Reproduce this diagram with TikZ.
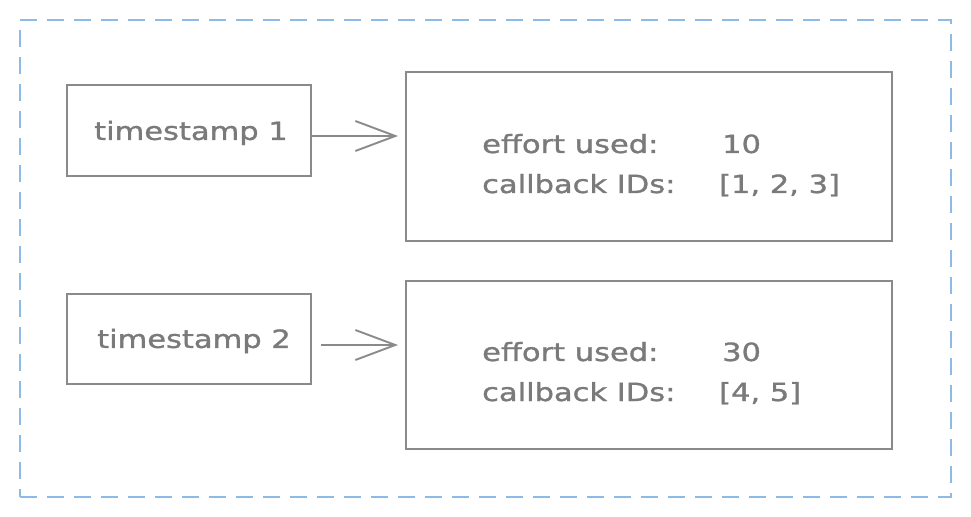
\documentclass[tikz,border=0pt]{standalone}
\usepackage{fontspec}
\usetikzlibrary{arrows.meta}
\newfontfamily\hand[FakeStretch=1.22,FakeBold=1.2]{DejaVu Sans}
\definecolor{edgegray}{HTML}{8A8A8A}
\definecolor{txtgray}{HTML}{7A7A7A}
\definecolor{dashblue}{HTML}{8DBAE6}
\tikzset{
  gbox/.style={draw=edgegray, line width=1.9bp, inner sep=0pt},
  lbl/.style={text=txtgray, font=\hand\fontsize{25bp}{30bp}\selectfont, inner sep=0pt},
  arr/.style={draw=edgegray, line width=1.9bp, -{Straight Barb[length=40bp,width=30bp,line width=1.9bp]}},
  frame/.style={draw=dashblue, line width=2.8bp, dash pattern=on 17bp off 10bp}
}
\begin{document}
\begin{tikzpicture}[x=1bp,y=-1bp]
\useasboundingbox (0,0) rectangle (971,517);
\node[frame, minimum width=931bp, minimum height=477bp, inner sep=0pt] (frm) at (485.5,258.5) {};
% left boxes
\node[gbox, minimum width=244bp, minimum height=91bp] (ts1) at (189,130.5) {};
\node[lbl] (ts1t) at (191,133) {timestamp 1};
\node[gbox, minimum width=244bp, minimum height=90bp] (ts2) at (189,339) {};
\node[lbl] (ts2t) at (194,341) {timestamp 2};
% right boxes
\node[gbox, minimum width=486bp, minimum height=169bp] (eb1) at (649,156.5) {};
\node[gbox, minimum width=486bp, minimum height=168bp] (eb2) at (649,365) {};
\node[lbl, anchor=base west] (e1a) at (482,153) {effort used:};
\node[lbl, anchor=base west] (e1b) at (722,153) {10};
\node[lbl, anchor=base west] (e1c) at (482,193) {callback IDs:};
\node[lbl, anchor=base west] (e1d) at (719,193) {[1, 2, 3]};
\node[lbl, anchor=base west] (e2a) at (482,361) {effort used:};
\node[lbl, anchor=base west] (e2b) at (722,361) {30};
\node[lbl, anchor=base west] (e2c) at (482,401) {callback IDs:};
\node[lbl, anchor=base west] (e2d) at (719,401) {[4, 5]};
% arrows
\draw[arr, shorten >=7bp] ([yshift=-5.5bp]ts1.east) -- ([yshift=-5.5bp]ts1.east -| eb1.west);
\draw[arr, shorten <=9bp, shorten >=7bp] ([yshift=-6bp]ts2.east) -- ([yshift=-6bp]ts2.east -| eb2.west);
\end{tikzpicture}
\end{document}
